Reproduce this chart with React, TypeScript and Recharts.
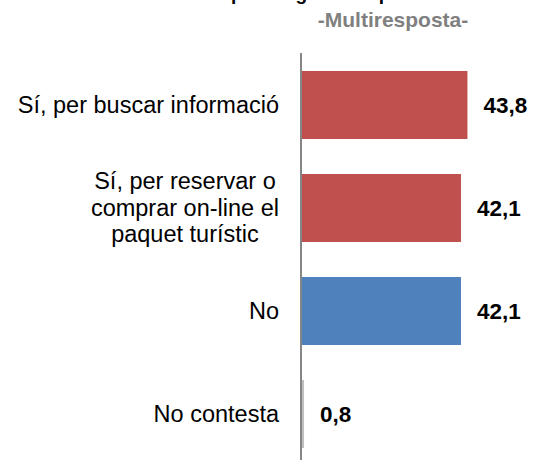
import React from 'react';
import { BarChart, Bar, XAxis, YAxis, LabelList, Cell } from 'recharts';

// ---- data ----
const CATEGORIES = [
  'Sí, per buscar informació',
  'Sí, per reservar o comprar on-line el paquet turístic',
  'No',
  'No contesta',
];
const CATEGORY_LINES = [
  ['Sí, per buscar informació'],
  ['Sí, per reservar o', 'comprar on-line el', 'paquet turístic'],
  ['No'],
  ['No contesta'],
];
const VALUES = [43.8, 42.1, 42.1, 0.8];
const TITLE_PREFIX = 'Ha utilitzat Internet ';
const TITLE_REST = 'per fer gestions prèvies?';
const SUBTITLE = '-Multiresposta-';
const X_DOMAIN: [number, number] = [0, 50];

// ---- styles ----
const BAR_COLORS = ['#C0504D', '#C0504D', '#4F81BD', '#BFBFBF'];
const FONT = '"Liberation Sans", Arial, sans-serif';
const CAT_FONT_SIZE = 23.5;
const LINE_H = 26.5;
const TITLE_SIZE = 19;

const data = CATEGORIES.map((name, i) => ({ name, value: VALUES[i] }));

let ctx: CanvasRenderingContext2D | null = null;
function measure(text: string, font: string): number {
  if (!ctx) {
    const c = document.createElement('canvas');
    ctx = c.getContext('2d');
  }
  if (!ctx) return text.length * 11;
  ctx.font = font;
  return ctx.measureText(text).width;
}

const CategoryTick = (props: any) => {
  const { x, y, payload } = props;
  const idx = CATEGORIES.indexOf(payload.value);
  const lines = idx >= 0 ? CATEGORY_LINES[idx] : [String(payload.value)];
  const font = `${CAT_FONT_SIZE}px "Liberation Sans"`;
  const maxW = Math.max(...lines.map((l) => measure(l, font)));
  const cx = x - maxW / 2;
  const n = lines.length;
  return (
    <g>
      {lines.map((l, i) => (
        <text
          key={i}
          x={cx}
          y={y + (i - (n - 1) / 2) * LINE_H}
          dy="0.35em"
          textAnchor="middle"
          fontFamily={FONT}
          fontSize={CAT_FONT_SIZE}
          fill="#000"
        >
          {l}
        </text>
      ))}
    </g>
  );
};

export default function App() {
  const titleFont = `bold ${TITLE_SIZE}px "Liberation Sans"`;
  const titleX = 231 - measure(TITLE_PREFIX, titleFont);
  return (
    <div
      style={{
        position: 'absolute',
        left: 0,
        top: 0,
        width: 534,
        height: 460,
        overflow: 'hidden',
        background: '#fff',
      }}
    >
      <BarChart
        width={534}
        height={470}
        data={data}
        layout="vertical"
        margin={{ top: 53, right: 43, bottom: 5, left: 0 }}
      >
        <XAxis type="number" domain={X_DOMAIN} hide />
        <YAxis
          type="category"
          dataKey="name"
          width={301}
          axisLine={{ stroke: '#868686', strokeWidth: 2 }}
          tickLine={false}
          tickSize={0}
          tickMargin={22}
          interval={0}
          tick={<CategoryTick />}
        />
        <Bar dataKey="value" barSize={68} isAnimationActive={false}>
          {data.map((_, i) => (
            <Cell key={i} fill={BAR_COLORS[i]} />
          ))}
          <LabelList
            dataKey="value"
            position="right"
            offset={16}
            formatter={(v: any) => String(v).replace('.', ',')}
            fill="#000"
            fontSize={22.5}
            fontWeight="bold"
            fontFamily={FONT}
          />
        </Bar>
      </BarChart>
      <svg
        width={534}
        height={60}
        style={{ position: 'absolute', left: 0, top: 0, pointerEvents: 'none' }}
      >
        <text x={titleX} y={-0.5} fontFamily={FONT} fontSize={TITLE_SIZE} fontWeight="bold" fill="#000">
          {TITLE_PREFIX + TITLE_REST}
        </text>
        <text x={393} y={27} textAnchor="middle" fontFamily={FONT} fontSize={21} fontWeight="bold" fill="#808080">
          {SUBTITLE}
        </text>
      </svg>
    </div>
  );
}
